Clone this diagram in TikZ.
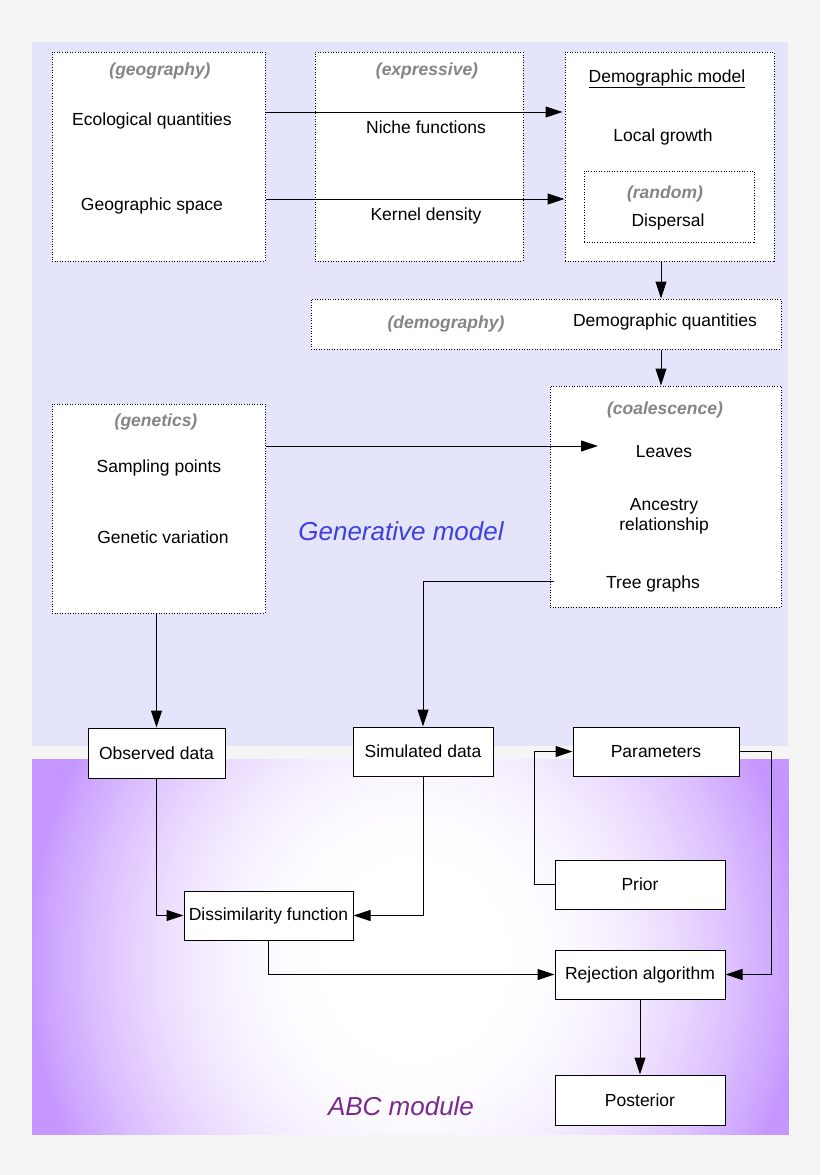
\documentclass[tikz,border=0pt]{standalone}
\usepackage{fontspec}
\setmainfont{Liberation Sans}
\usetikzlibrary{arrows.meta,calc,positioning}
\definecolor{page}{HTML}{F5F5F5}
\definecolor{genbg}{HTML}{E4E4FA}
\definecolor{abcedge}{HTML}{C596FF}
\definecolor{tag}{HTML}{858585}
\definecolor{genink}{HTML}{4040E0}
\definecolor{abcink}{HTML}{7A2A8C}

\begin{document}
\begin{tikzpicture}[x=1pt,y=-1pt,>={Triangle[length=17pt,width=11pt]},line width=1pt,
every node/.style={font=\fontsize{17.5}{20}\selectfont},
zone/.style 2 args={draw,dash pattern=on 1pt off 1.6pt,fill=white,minimum width=#1,minimum height=#2,inner sep=0pt},
stepbox/.style={draw,fill=white,minimum width=#1,minimum height=49,inner sep=0pt},
tagtext/.style={text=tag,font=\fontsize{17.5}{20}\selectfont\bfseries\itshape},
panel/.style={font=\fontsize{26}{30}\selectfont\itshape}]
% backgrounds
\fill[page] (0,0) rectangle (820,1175);
\fill[genbg] (32,42) rectangle (788,746);
\begin{scope}
\clip (32,759) rectangle (788,1134);
\foreach \s in {1.25,1.24,...,0.19}{
\pgfmathsetmacro\p{100*min(1,((max(\s,0.2)-0.2)/0.8)^2)}
\fill[abcedge!\p!white] (415,960) ellipse ({390*\s} and {420*\s});}
\end{scope}
% generative model
\node[zone={213}{209}] (geo) at (158.5,156.5) {};
\node[zone={208}{209}] (expr) at (419,156.5) {};
\node[zone={209}{209}] (demo) at (669.5,156.5) {};
\node[zone={170}{71}] (rand) at (669,206.5) {};
\node[zone={470}{50}] (dmgy) at (546,324) {};
\node[zone={231}{221}] (coal) at (665.5,496.5) {};
\node[zone={213}{209}] (gen) at (158.5,508.5) {};
\node[tagtext] (geotag) at (160,71) {(geography)};
\node (eco) at (152,121) {Ecological quantities};
\node (space) at (152,206) {Geographic space};
\node[tagtext] (exptag) at (427,71) {(expressive)};
\node (niche) at (426,127) {Niche functions};
\node (kernel) at (426,216) {Kernel density};
\node (demtitle) at (667,79) {\underline{Demographic model}};
\node (growth) at (663,137) {Local growth};
\node[tagtext] (randtag) at (665,194) {(random)};
\node (dispersal) at (668,222) {Dispersal};
\node[tagtext] (dmgytag) at (446,324) {(demography)};
\node (dmgyq) at (665,322) {Demographic quantities};
\node[tagtext] (coaltag) at (665,410) {(coalescence)};
\node (leaves) at (664,452) {Leaves};
\node[align=center] (ancestry) at (664,516) {Ancestry\\relationship};
\node (tree) at (653,584) {Tree graphs};
\node[tagtext] (gentag) at (156,422) {(genetics)};
\node (sampling) at (159,468) {Sampling points};
\node (genvar) at (163,537) {Genetic variation};
\node[panel,text=genink] (genlabel) at (401,531) {Generative model};
% abc module
\node[stepbox=137,minimum height=50] (obs) at (156.5,753) {Observed data};
\node[stepbox=140] (sim) at (423,751.5) {Simulated data};
\node[stepbox=166] (par) at (656,751.5) {Parameters};
\node[stepbox=170] (pri) at (640,884.5) {Prior};
\node[stepbox=169] (dis) at (268.5,915.5) {Dissimilarity function};
\node[stepbox=170] (rej) at (640,974.5) {Rejection algorithm};
\node[stepbox=170,minimum height=50] (post) at (640,1100) {Posterior};
\node[panel,text=abcink] (abclabel) at (401,1106) {ABC module};
\coordinate (leafin) at (598,446);
\coordinate (pturn) at (771,751.5);
% connectors
\draw[->] (geo.east |- 0,112) -- ([xshift=-2pt]demo.west |- 0,112);
\draw[->] (geo.east |- 0,199) -- (demo.west |- 0,199);
\draw[->] (demo.south -| 661,0) -- (dmgy.north -| 661,0);
\draw[->] (dmgy.south -| 661,0) -- (coal.north -| 661,0);
\draw[->] (gen.east |- leafin) -- (leafin);
\draw[->] ([xshift=4pt]coal.west |- 0,581) -| (sim.north);
\draw[->] (gen.south -| obs.north) -- (obs.north);
\draw[->] (obs.south) |- (dis.west);
\draw[->] (sim.south) |- (dis.east);
\draw[->] (dis.south) |- (rej.west);
\draw[->] (par.east) -- (pturn) |- (rej.east);
\draw[->] (pri.west) -- ++(-20,0) |- (par.west);
\draw[->] (rej.south) -- (post.north);
\end{tikzpicture}
\end{document}
